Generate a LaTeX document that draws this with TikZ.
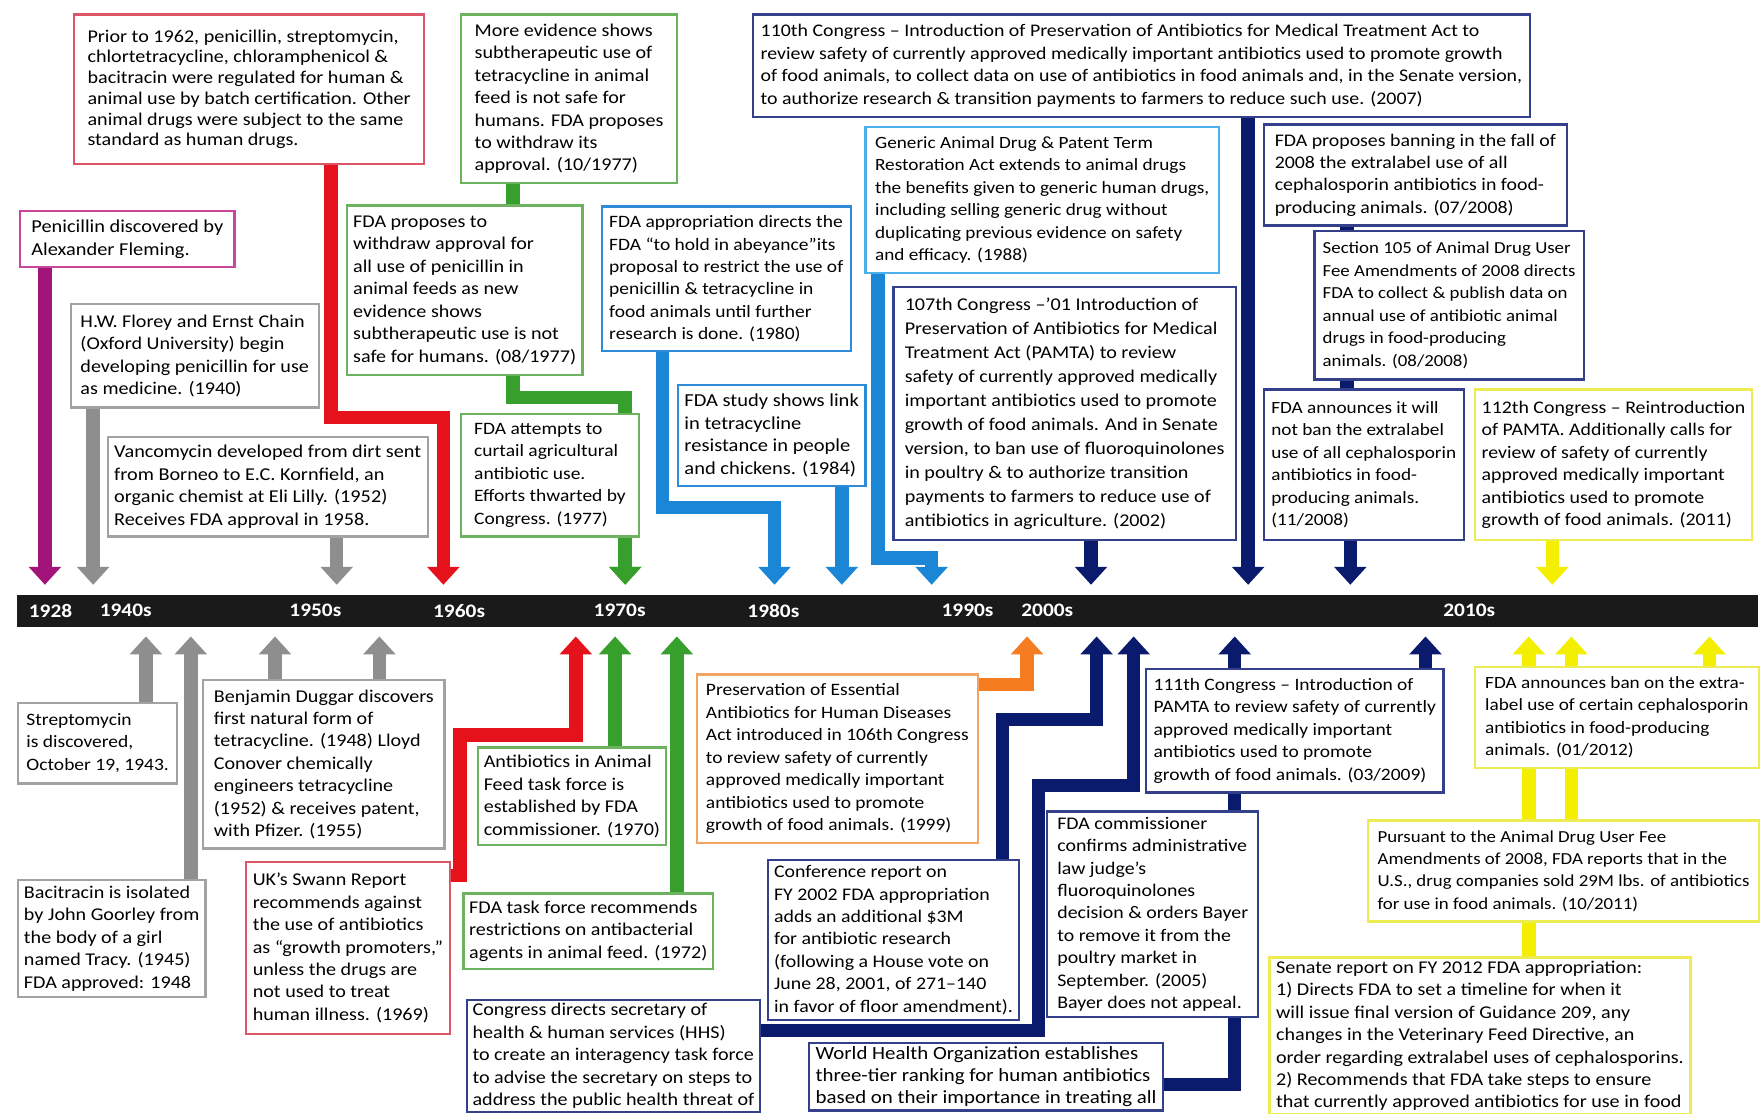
\documentclass[tikz,border=0pt]{standalone}
\usepackage{fontspec}
\setmainfont{Carlito}[FakeStretch=1.12]
\usetikzlibrary{arrows.meta}

\definecolor{plum}{HTML}{A3147A}
\definecolor{plumbox}{HTML}{C8479A}
\definecolor{ashline}{HTML}{8E8E8E}
\definecolor{ashbox}{HTML}{A2A2A2}
\definecolor{redline}{HTML}{E5121C}
\definecolor{redbox}{HTML}{DE5566}
\definecolor{grnline}{HTML}{37A02D}
\definecolor{grnbox}{HTML}{6DB35F}
\definecolor{bluline}{HTML}{1C86D6}
\definecolor{blubox}{HTML}{2F8BD8}
\definecolor{skybox}{HTML}{4CB0EA}
\definecolor{navyline}{HTML}{0A1B6E}
\definecolor{navybox}{HTML}{34408A}
\definecolor{orgline}{HTML}{F57C1F}
\definecolor{orgbox}{HTML}{F2A463}
\definecolor{yelline}{HTML}{F4EE00}
\definecolor{yelbox}{HTML}{EEEC55}
\definecolor{barcol}{HTML}{1B1A1A}

\pgfdeclarelayer{back}
\pgfdeclarelayer{links}
\pgfsetlayers{back,links,main}

\begin{document}
\begin{tikzpicture}[x=1pt,y=-1pt,
    box/.style={draw=#1,fill=white,line width=2pt,anchor=north west,align=left,
        inner xsep=5pt,inner ysep=3pt,font=\fontsize{16}{20}\selectfont},
    fs/.style={font=\fontsize{#1}{20}\selectfont},
    link/.style={draw=#1,line width=12pt},
    tip/.style={link=#1,-{Triangle[width=28pt,length=16pt]}},
    year/.style={text=white,font=\fontsize{17}{18}\selectfont\bfseries}]

    \useasboundingbox (0,0) rectangle (1568,992);
    \begin{pgfonlayer}{back}
        \fill[white] (0,0) rectangle (1568,992);
    \end{pgfonlayer}

    \node[fill=barcol,anchor=north west,minimum width=1551,minimum height=28,inner sep=0] (bar) at (15,530) {};
    \foreach \x/\yr in {45/1928,112/1940s,281/1950s,409/1960s,552/1970s,689/1980s,862/1990s,933/2000s,1309/2010s}
        \node[year] (y\yr) at (\x,544) {\yr};

    \coordinate (t1928) at (40,521);
    \coordinate (t1940) at (83,521);
    \coordinate (t1952) at (300,521);
    \coordinate (t1962) at (395,521);
    \coordinate (t1977) at (557,521);
    \coordinate (t1980) at (690,521);
    \coordinate (t1984) at (750,521);
    \coordinate (t1988) at (830,521);
    \coordinate (t2002) at (972,521);
    \coordinate (t2007) at (1112,521);
    \coordinate (t2008) at (1203,521);
    \coordinate (t2011) at (1383,521);

    \coordinate (b1943) at (130,567);
    \coordinate (b1945) at (170,567);
    \coordinate (b1948) at (245,567);
    \coordinate (b1955) at (338,567);
    \coordinate (b1969) at (513,567);
    \coordinate (b1970) at (548,567);
    \coordinate (b1972) at (603,567);
    \coordinate (b1999) at (915,567);
    \coordinate (b2001) at (977,567);
    \coordinate (b2000) at (1010,567);
    \coordinate (b2009) at (1100,567);
    \coordinate (b2009b) at (1270,567);
    \coordinate (b2012a) at (1362,567);
    \coordinate (b2012b) at (1400,567);
    \coordinate (b2012) at (1523,567);

    \node[box=plumbox,fs=16.2,minimum width=191,minimum height=50] (pen) at (17,187)
        {Penicillin discovered by\\Alexander Fleming.};
    \node[box=redbox,minimum width=312,minimum height=133,font=\fontsize{16}{18.5}\selectfont] (prior) at (65,12)
        {Prior to 1962, penicillin, streptomycin,\\chlortetracycline, chloramphenicol \&\\bacitracin were regulated for human \&\\animal use by batch certification. Other\\animal drugs were subject to the same\\standard as human drugs.};
    \node[box=ashbox,minimum width=221,minimum height=92] (florey) at (62,270)
        {H.W. Florey and Ernst Chain\\(Oxford University) begin\\developing penicillin for use\\as medicine. (1940)};
    \node[box=ashbox,fs=16.1,minimum width=285,minimum height=89] (vanco) at (95,388)
        {Vancomycin developed from dirt sent\\from Borneo to E.C. Kornfield, an\\organic chemist at Eli Lilly. (1952)\\Receives FDA approval in 1958.};
    \node[box=grnbox,minimum width=192,minimum height=150] (more) at (410,12)
        {More evidence shows\\subtherapeutic use of\\tetracycline in animal\\feed is not safe for\\humans. FDA proposes\\to withdraw its\\approval. (10/1977)};
    \node[box=grnbox,fs=16,minimum width=210,minimum height=151] (propose) at (308,182)
        {FDA proposes to\\withdraw approval for\\all use of penicillin in\\animal feeds as new\\evidence shows\\subtherapeutic use is not\\safe for humans. (08/1977)};
    \node[box=grnbox,fs=15.5,minimum width=158,minimum height=109] (attempt) at (410,368)
        {FDA attempts to\\curtail agricultural\\antibiotic use.\\Efforts thwarted by\\Congress. (1977)};
    \node[box=blubox,fs=15.5,minimum width=222,minimum height=129] (approp) at (535,183)
        {FDA appropriation directs the\\FDA ``to hold in abeyance''its\\proposal to restrict the use of\\penicillin \& tetracycline in\\food animals until further\\research is done. (1980)};
    \node[box=blubox,fs=16.3,minimum width=167,minimum height=90] (study) at (603,342)
        {FDA study shows link\\in tetracycline\\resistance in people\\and chickens. (1984)};
    \node[box=skybox,fs=15.3,minimum width=315,minimum height=130] (generic) at (770,112)
        {Generic Animal Drug \& Patent Term\\Restoration Act extends to animal drugs\\the benefits given to generic human drugs,\\including selling generic drug without\\duplicating previous evidence on safety\\and efficacy. (1988)};
    \node[box=navybox,minimum width=305,minimum height=225,font=\fontsize{16}{21.3}\selectfont] (pamta107) at (795,255)
        {107th Congress --'01 Introduction of\\Preservation of Antibiotics for Medical\\Treatment Act (PAMTA) to review\\safety of currently approved medically\\important antibiotics used to promote\\growth of food animals. And in Senate\\version, to ban use of fluoroquinolones\\in poultry \& to authorize transition\\payments to farmers to reduce use of\\antibiotics in agriculture. (2002)};
    \node[box=navybox,fs=15.8,minimum width=692,minimum height=91] (pamta110) at (670,12)
        {110th Congress -- Introduction of Preservation of Antibiotics for Medical Treatment Act to\\review safety of currently approved medically important antibiotics used to promote growth\\of food animals, to collect data on use of antibiotics in food animals and, in the Senate version,\\to authorize research \& transition payments to farmers to reduce such use. (2007)};
    \node[box=navybox,fs=15.8,minimum width=270,minimum height=90] (banning) at (1125,110)
        {FDA proposes banning in the fall of\\2008 the extralabel use of all\\cephalosporin antibiotics in food-\\producing animals. (07/2008)};
    \node[box=navybox,fs=15,minimum width=240,minimum height=132] (sec105) at (1170,205)
        {Section 105 of Animal Drug User\\Fee Amendments of 2008 directs\\FDA to collect \& publish data on\\annual use of antibiotic animal\\drugs in food-producing\\animals. (08/2008)};
    \node[box=navybox,fs=15.3,minimum width=178,minimum height=134] (noban) at (1125,346)
        {FDA announces it will\\not ban the extralabel\\use of all cephalosporin\\antibiotics in food-\\producing animals.\\(11/2008)};
    \node[box=yelbox,fs=15.8,minimum width=247,minimum height=134] (pamta112) at (1313,346)
        {112th Congress -- Reintroduction\\of PAMTA. Additionally calls for\\review of safety of currently\\approved medically important\\antibiotics used to promote\\growth of food animals. (2011)};

    \node[box=ashbox,fs=15.5,minimum width=142,minimum height=72] (strep) at (15,625)
        {Streptomycin\\is discovered,\\October 19, 1943.};
    \node[box=ashbox,minimum width=167,minimum height=104] (baci) at (15,783)
        {Bacitracin is isolated\\by John Goorley from\\the body of a girl\\named Tracy. (1945)\\FDA approved: 1948};
    \node[box=ashbox,minimum width=215,minimum height=150] (duggar) at (180,605)
        {Benjamin Duggar discovers\\first natural form of\\tetracycline. (1948) Lloyd\\Conover chemically\\engineers tetracycline\\(1952) \& receives patent,\\with Pfizer. (1955)};
    \node[box=redbox,minimum width=182,minimum height=153] (swann) at (218,767)
        {UK's Swann Report\\recommends against\\the use of antibiotics\\as ``growth promoters,''\\unless the drugs are\\not used to treat\\human illness. (1969)};
    \node[box=grnbox,minimum width=162,minimum height=87] (aaf) at (425,665)
        {Antibiotics in Animal\\Feed task force is\\established by FDA\\commissioner. (1970)};
    \node[box=grnbox,minimum width=220,minimum height=67] (taskforce) at (412,795)
        {FDA task force recommends\\restrictions on antibacterial\\agents in animal feed. (1972)};
    \node[box=navybox,minimum width=257] (congress) at (415,890)
        {Congress directs secretary of\\health \& human services (HHS)\\to create an interagency task force\\to advise the secretary on steps to\\address the public health threat of};
    \node[box=orgbox,fs=15.5,minimum width=250,minimum height=150] (pres) at (620,600)
        {Preservation of Essential\\Antibiotics for Human Diseases\\Act introduced in 106th Congress\\to review safety of currently\\approved medically important\\antibiotics used to promote\\growth of food animals. (1999)};
    \node[box=navybox,fs=15.8,minimum width=224,minimum height=143] (conf) at (683,765)
        {Conference report on\\FY 2002 FDA appropriation\\adds an additional \$3M\\for antibiotic research\\(following a House vote on\\June 28, 2001, of 271--140\\in favor of floor amendment).};
    \node[box=navybox,fs=15.8,minimum width=188,minimum height=183] (commish) at (932,722)
        {FDA commissioner\\confirms administrative\\law judge's\\fluoroquinolones\\decision \& orders Bayer\\to remove it from the\\poultry market in\\September. (2005)\\Bayer does not appeal.};
    \node[box=navybox,fs=16.6,minimum width=315] (who) at (720,928)
        {World Health Organization establishes\\three-tier ranking for human antibiotics\\based on their importance in treating all};
    \node[box=navybox,fs=15.5,minimum width=265,minimum height=110] (pamta111) at (1020,595)
        {111th Congress -- Introduction of\\PAMTA to review safety of currently\\approved medically important\\antibiotics used to promote\\growth of food animals. (03/2009)};
    \node[box=yelbox,fs=15.3,minimum width=253,minimum height=90] (ban) at (1313,593)
        {FDA announces ban on the extra-\\label use of certain cephalosporin\\antibiotics in food-producing\\animals. (01/2012)};
    \node[box=yelbox,fs=15,minimum width=348,minimum height=90] (pursuant) at (1218,730)
        {Pursuant to the Animal Drug User Fee\\Amendments of 2008, FDA reports that in the\\U.S., drug companies sold 29M lbs. of antibiotics\\for use in food animals. (10/2011)};
    \node[box=yelbox,minimum width=375] (senate) at (1130,852)
        {Senate report on FY 2012 FDA appropriation:\\1) Directs FDA to set a timeline for when it\\will issue final version of Guidance 209, any\\changes in the Veterinary Feed Directive, an\\order regarding extralabel uses of cephalosporins.\\2) Recommends that FDA take steps to ensure\\that currently approved antibiotics for use in food};

    \begin{pgfonlayer}{links}
    \draw[tip=plum] (pen -| t1928) -- (t1928);
    \draw[tip=ashline] (florey -| t1940) -- (t1940);
    \draw[tip=ashline] (vanco -| t1952) -- (t1952);
    \draw[tip=redline] ([xshift=230pt]prior.south west) -- ++(0,225) -| (t1962);
    \draw[link=grnline] (more -| 457,0) -- (propose -| 457,0);
    \draw[tip=grnline] ([xshift=149pt]propose.south west) -- ++(0,19) -| (t1977);
    \draw[tip=grnline] (attempt -| t1977) -- (t1977);
    \draw[tip=bluline] ([xshift=55pt]approp.south west) -- ++(0,138) -| (t1980);
    \draw[tip=bluline] (study -| t1984) -- (t1984);
    \draw[tip=bluline] ([xshift=12pt]generic.south west) -- ++(0,253) -| (t1988);
    \draw[tip=navyline] (pamta107 -| t2002) -- (t2002);
    \draw[tip=navyline] (pamta110 -| t2007) -- (t2007);
    \draw[link=navyline] ([xshift=75pt]banning.south west) -- ([xshift=30pt]sec105.north west);
    \draw[link=navyline] ([xshift=30pt]sec105.south west) -- ([xshift=75pt]noban.north west);
    \draw[tip=navyline] (noban -| t2008) -- (t2008);
    \draw[tip=yelline] (pamta112 -| t2011) -- (t2011);

    \draw[tip=ashline] (strep -| b1943) -- (b1943);
    \draw[tip=ashline] (baci -| b1945) -- (b1945);
    \draw[tip=ashline] (duggar -| b1948) -- (b1948);
    \draw[tip=ashline] (duggar -| b1955) -- (b1955);
    \draw[tip=redline] ([xshift=-20pt,yshift=-13pt]swann.north east) -| ++(28,-125) -| (b1969);
    \draw[tip=grnline] (aaf -| b1970) -- (b1970);
    \draw[tip=grnline] (taskforce -| b1972) -- (b1972);
    \draw[tip=orgline] ([xshift=-10pt,yshift=-10pt]pres.north east) -| (b1999);
    \draw[tip=navyline] ([xshift=-16pt]conf.north east) -- ++(0,-124) -| (b2001);
    \draw[tip=navyline] ([xshift=-10pt,yshift=-28pt]congress.north east) -| ++(257,-218) -| (b2000);
    \draw[tip=navyline] (pamta111 -| b2009) -- (b2009);
    \draw[tip=navyline] (pamta111 -| b2009b) -- (b2009b);
    \draw[link=navyline] (pamta111 -| b2009) -- (commish -| b2009);
    \draw[link=navyline] (commish -| b2009) |- ([yshift=-38pt]who.north east);
    \draw[tip=yelline] (ban -| b2012) -- (b2012);
    \draw[tip=yelline] (pursuant -| b2012a) -- (b2012a);
    \draw[tip=yelline] (pursuant -| b2012b) -- (b2012b);
    \draw[link=yelline] (pursuant -| b2012a) -- (senate -| b2012a);
    \end{pgfonlayer}
\end{tikzpicture}
\end{document}
